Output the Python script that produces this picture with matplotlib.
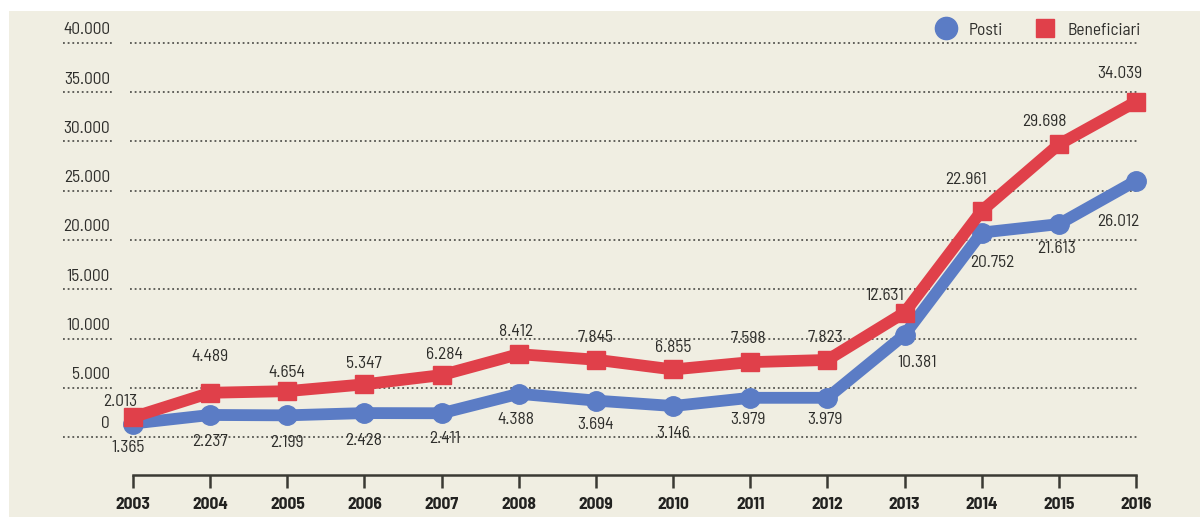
import matplotlib
matplotlib.use("Agg")
import matplotlib.pyplot as plt
from matplotlib.lines import Line2D
from matplotlib.patches import Rectangle
import numpy as np

years = [2003, 2004, 2005, 2006, 2007, 2008, 2009, 2010, 2011, 2012, 2013, 2014, 2015, 2016]
posti = [1365, 2237, 2199, 2428, 2411, 4388, 3694, 3146, 3979, 3979, 10381, 20752, 21613, 26012]
beneficiari = [2013, 4489, 4654, 5347, 6284, 8412, 7845, 6855, 7598, 7823, 12631, 22961, 29698, 34039]
y_ticks = [0, 5000, 10000, 15000, 20000, 25000, 30000, 35000, 40000]

# label offsets in pixels (dx, dy up positive)
ben_off = [(-13, 16), (0, 36), (0, 19), (-1, 21), (3, 21), (-3, 23), (0, 22), (0, 22),
           (-2, 24), (-2, 22), (-20, 17), (-16, 31), (-14, 23), (-16, 28)]
pos_off = [(-5, -24), (0, -27), (0, -27), (-1, -27), (3, -25), (-3, -26), (0, -24), (0, -27),
           (-2, -22), (-2, -22), (13, -28), (11, -30), (-2, -24), (-18, -41)]

def fmt(v):
    return f"{v:,}".replace(",", ".")

FONT = ['Barlow Semi Condensed', 'Archivo Narrow', 'DejaVu Sans']
plt.rcParams['font.family'] = FONT
BG = '#f0eee2'
BLUE = '#5b7cc5'
RED = '#e0404a'
TXT = '#2e2e2b'
FS = 12.5

W, H = 1200, 517
fig = plt.figure(figsize=(W / 100, H / 100), dpi=100, facecolor='white')
fig.patches.append(Rectangle((9 / W, 0), 1 - 9 / W, 1 - 11 / H, transform=fig.transFigure,
                             facecolor=BG, edgecolor='none', zorder=-10))

ax_left, ax_right = 130, 1138
ax_top, ax_bot = 43, 475
ax = fig.add_axes([ax_left / W, 1 - ax_bot / H, (ax_right - ax_left) / W, (ax_bot - ax_top) / H])
ax.set_facecolor('none')

x = np.arange(len(years))
px_per_unit = (437 - 43) / 40000.0
ymin = -(ax_bot - 437) / px_per_unit
ax.set_ylim(ymin, 40000)
ax.set_xlim(-(133 - ax_left) / 77.15, 13 + (ax_right - 1136) / 77.15)

# gridlines
ytr = ax.get_yaxis_transform()
for t in y_ticks:
    ax.plot([0, 1], [t, t], transform=ytr, color='#555550', lw=1.3, ls=(0, (1, 1.6)), zorder=1, clip_on=False)
    ax.plot([(63 - ax_left) / (ax_right - ax_left), (114 - ax_left) / (ax_right - ax_left)], [t, t],
            transform=ytr, color='#555550', lw=1.3, ls=(0, (1, 1.6)), zorder=1, clip_on=False)
    ax.annotate(fmt(t), xy=((110 - ax_left) / (ax_right - ax_left), t), xycoords=ytr,
                xytext=(0, 13), textcoords='offset pixels', ha='right', va='center',
                fontsize=FS, color=TXT, annotation_clip=False)

# lines
ax.plot(x, posti, color=BLUE, lw=8.5, marker='o', ms=14, solid_joinstyle='round', zorder=3, clip_on=False)
ax.plot(x, beneficiari, color=RED, lw=8.5, marker='s', ms=12.5, solid_joinstyle='miter', zorder=4, clip_on=False)

for i in range(len(years)):
    ax.annotate(fmt(beneficiari[i]), xy=(x[i], beneficiari[i]), xytext=ben_off[i], textcoords='offset pixels',
                ha='center', va='center', fontsize=FS, color=TXT, zorder=6)
    ax.annotate(fmt(posti[i]), xy=(x[i], posti[i]), xytext=pos_off[i], textcoords='offset pixels',
                ha='center', va='center', fontsize=FS, color=TXT, zorder=6)

# axes styling
for s in ['top', 'right', 'left']:
    ax.spines[s].set_visible(False)
ax.spines['bottom'].set_bounds(0, 13)
ax.spines['bottom'].set_color('#3a3a33')
ax.spines['bottom'].set_linewidth(1.8)
ax.set_yticks([])
ax.set_xticks(x)
ax.set_xticklabels([str(y) for y in years], fontsize=FS, fontweight='bold', color='#222220')
ax.tick_params(axis='x', length=9, width=1.8, color='#3a3a33', pad=7)

# legend
handles = [Line2D([], [], color=BLUE, marker='o', ls='none', ms=16),
           Line2D([], [], color=RED, marker='s', ls='none', ms=13)]
leg = fig.legend(handles, ['Posti', 'Beneficiari'], loc='center right', bbox_to_anchor=(1156 / W, 1 - 30 / H),
                 ncol=2, frameon=False, fontsize=FS, handletextpad=0.6, columnspacing=1.7,
                 handlelength=1.4)
for t in leg.get_texts():
    t.set_color(TXT)

fig.savefig('out.png', dpi=100, facecolor='white')
